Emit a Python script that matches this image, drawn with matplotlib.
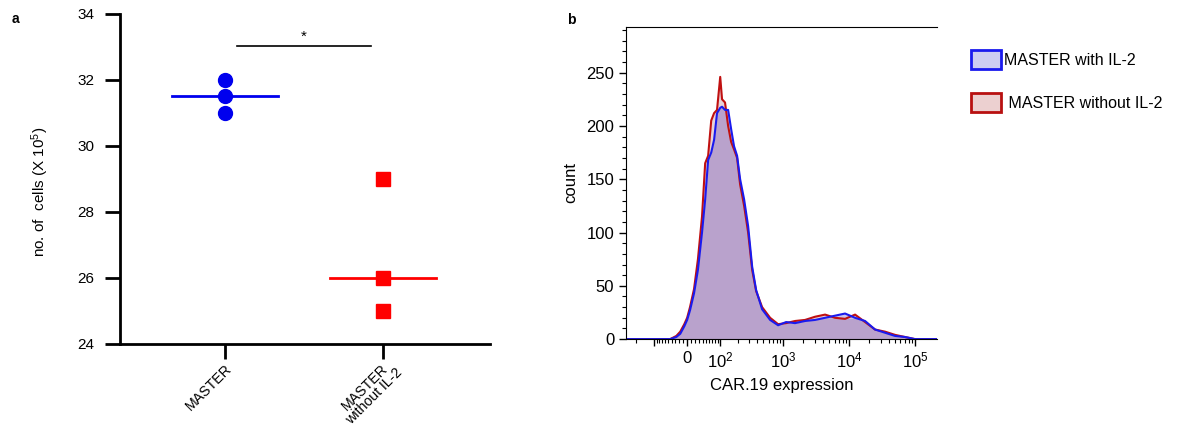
import numpy as np
import matplotlib
matplotlib.use("Agg")
import matplotlib.pyplot as plt
import matplotlib.transforms as mtransforms
from matplotlib.patches import Patch
from matplotlib.ticker import FixedLocator, MultipleLocator

plt.rcParams['font.family'] = ['Liberation Sans', 'DejaVu Sans']
plt.rcParams['mathtext.fontset'] = 'custom'
plt.rcParams['mathtext.rm'] = 'Liberation Sans'
plt.rcParams['mathtext.it'] = 'Liberation Sans'

# panel a: cell counts (x 10^5)
groups = ["MASTER", "MASTER\nwithout IL-2"]
cells_with = [32, 31.5, 31]
cells_without = [29, 26, 25]

# panel b: CAR.19 histogram
expr = [-290, -76, -44, -27, -17, -7, 0, 7, 17, 27, 38, 47, 56, 66, 76, 87, 100,
        108, 122, 138, 155, 173, 194, 217, 251, 290, 335, 386, 477, 632, 836,
        1106, 1512, 2147, 3045, 4318, 6120, 8680, 12300, 17450, 24700, 35000,
        49600, 70000, 99800, 214000]
count_with = [0, 0, 0, 2, 5, 12, 18, 27, 43, 65, 100, 131, 168, 175, 187, 212, 217,
              218, 215, 215, 197, 181, 172, 150, 131, 106, 68, 46, 28, 18, 13,
              16, 15, 17, 18, 20, 22, 24, 20, 17, 9, 6, 3, 2, 0, 0]
count_without = [0, 0, 0, 3, 7, 14, 20, 30, 47, 75, 115, 165, 172, 205, 212, 215, 246,
                 225, 222, 200, 185, 178, 170, 145, 125, 100, 65, 45, 30, 20, 14,
                 15, 17, 18, 21, 23, 20, 19, 23, 16, 9, 7, 4, 2, 0, 0]

fig = plt.figure(figsize=(11.77, 4.32), dpi=100)

# ---- panel a
ax1 = fig.add_axes([0.102, 0.204, 0.314, 0.764])
xs = np.arange(len(groups))
ax1.plot([xs[0]] * len(cells_with), cells_with, 'o', color='#0000ee', ms=10, zorder=3)
ax1.plot([xs[1]] * len(cells_without), cells_without, 's', color='#ff0000', ms=9.5, zorder=3)
w = 0.335
ax1.plot([xs[0] - w, xs[0] + w], [np.median(cells_with)] * 2, color='#0000ee', lw=2)
ax1.plot([xs[1] - w, xs[1] + w], [np.median(cells_without)] * 2, color='#ff0000', lw=2)
ax1.plot([0.076, 0.924], [33.03, 33.03], color='black', lw=1.2)
ax1.text(0.5, 33.08, '*', ha='center', va='bottom', fontsize=11)

ax1.set_xlim(-0.665, 1.677)
ax1.set_ylim(24, 34)
ax1.set_yticks([24, 26, 28, 30, 32, 34])
ax1.set_xticks(xs)
ax1.tick_params(axis='both', direction='out', length=10.5, width=2, labelsize=11)
ax1.tick_params(axis='y', pad=8)
ax1.tick_params(axis='x', pad=2)
labels = ax1.set_xticklabels(groups, rotation=45, ha='right', rotation_mode='anchor',
                             multialignment='center', linespacing=0.95, fontsize=10.2)
# nudge the two-line label up/right a little, like the original
shift = mtransforms.ScaledTranslation(0.025, 0.05, fig.dpi_scale_trans)
labels[1].set_transform(labels[1].get_transform() + shift)
for s in ['top', 'right']:
    ax1.spines[s].set_visible(False)
for s in ['left', 'bottom']:
    ax1.spines[s].set_linewidth(2)
ax1.set_ylabel('no. of  cells (X 10$^5$)', fontsize=11)
ax1.yaxis.set_label_coords(-0.186, 0.46)

fig.text(0.010, 0.947, 'a', fontsize=10, fontweight='bold')

# ---- panel b
ax2 = fig.add_axes([0.532, 0.215, 0.264, 0.723])
fwd = lambda x: np.arcsinh(np.asarray(x, dtype=float) / 70.0) / np.log(10)
inv = lambda y: 70.0 * np.sinh(np.asarray(y, dtype=float) * np.log(10))
ax2.set_xscale('function', functions=(fwd, inv))

cw = np.array(count_with)
cwo = np.array(count_without)
ax2.fill_between(expr, cwo, color='#e8d2d8', lw=0)
ax2.fill_between(expr, cw, color='#cdc6ee', lw=0)
ax2.fill_between(expr, np.minimum(cw, cwo), color='#b9a2cc', lw=0)
ax2.plot(expr, cwo, color='#c01010', lw=1.5)
ax2.plot(expr, cw, color='#1a1aee', lw=1.5)

ax2.set_xlim(-290, 214000)
ax2.set_ylim(0, 293)
ax2.yaxis.set_major_locator(MultipleLocator(50))
ax2.yaxis.set_minor_locator(MultipleLocator(10))
ax2.set_xticks([-100, 0, 100, 1000, 10000, 100000])
ax2.set_xticklabels(['', '0', '$10^2$', '$10^3$', '$10^4$', '$10^5$'])
minor = [-300, -200] + [-k * 10 for k in range(1, 10)] + [k * 10 for k in range(1, 10)]
for d in [100, 1000, 10000]:
    minor += [k * d for k in range(2, 10)]
ax2.xaxis.set_minor_locator(FixedLocator(minor))
ax2.tick_params(axis='both', which='major', direction='out', length=5, width=1, labelsize=12)
ax2.tick_params(axis='both', which='minor', direction='out', length=3, width=0.8)
ax2.spines['right'].set_visible(False)
ax2.set_ylabel('count', fontsize=12, labelpad=6)
ax2.set_xlabel('CAR.19 expression', fontsize=12, labelpad=5)

fig.text(0.482, 0.944, 'b', fontsize=10, fontweight='bold')

handles = [Patch(facecolor='#cdcdf2', edgecolor='#1a1aee', lw=2, label='MASTER with IL-2'),
           Patch(facecolor='#ecd0d0', edgecolor='#b81010', lw=2, label=' MASTER without IL-2')]
fig.legend(handles=handles, loc='upper left', bbox_to_anchor=(0.813, 0.917), frameon=False,
           fontsize=11.5, handlelength=1.85, handleheight=1.4, labelspacing=1.55, handletextpad=0.2)

fig.savefig('out.png', dpi=100)
